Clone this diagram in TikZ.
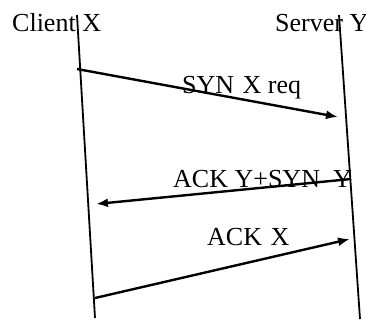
\documentclass[tikz,border=0pt]{standalone}
\usepackage{fontspec}
\setmainfont{Liberation Serif}
\usepackage{tikz}
\usetikzlibrary{arrows.meta}
\tikzset{>={Latex[length=12pt,width=9pt]}}
\tikzset{
  lifeline/.style={line width=1.8pt},
  msg/.style={line width=2.4pt,->},
  lbl/.style={inner sep=0pt,anchor=base west,font=\fontsize{26}{30}\selectfont}
}

\begin{document}
\begin{tikzpicture}[x=1pt,y=-1pt]

  \useasboundingbox (0,0) rectangle (366,324);

  % Nodes
  \node[lbl] (client) at (12,31) {Client X};
  \node[lbl] (server) at (275,31) {Server Y};
  \coordinate (ctop) at (77,15);
  \coordinate (cbot) at (95,318);
  \coordinate (stop) at (339,15);
  \coordinate (sbot) at (360,319);

  \coordinate (synA) at (77,69);
  \coordinate (synB) at (338,117);
  \coordinate (ackyA) at (351,179);
  \coordinate (ackyB) at (96,204);
  \coordinate (ackxA) at (95,298);
  \coordinate (ackxB) at (350,239);

  \node[lbl] (synlbl) at (182,93) {SYN\hspace{2pt} X req};
  \node[lbl] (ackylbl) at (173,187) {ACK Y+SYN\ \ Y};
  \node[lbl] (ackxlbl) at (207,245) {ACK\hspace{2pt} X};

  % Edges
  \draw[lifeline] (ctop) -- (cbot);
  \draw[lifeline] (stop) -- (sbot);
  \draw[msg] (synA) -- (synB);
  \draw[msg] (ackyA) -- (ackyB);
  \draw[msg] (ackxA) -- (ackxB);

\end{tikzpicture}
\end{document}
